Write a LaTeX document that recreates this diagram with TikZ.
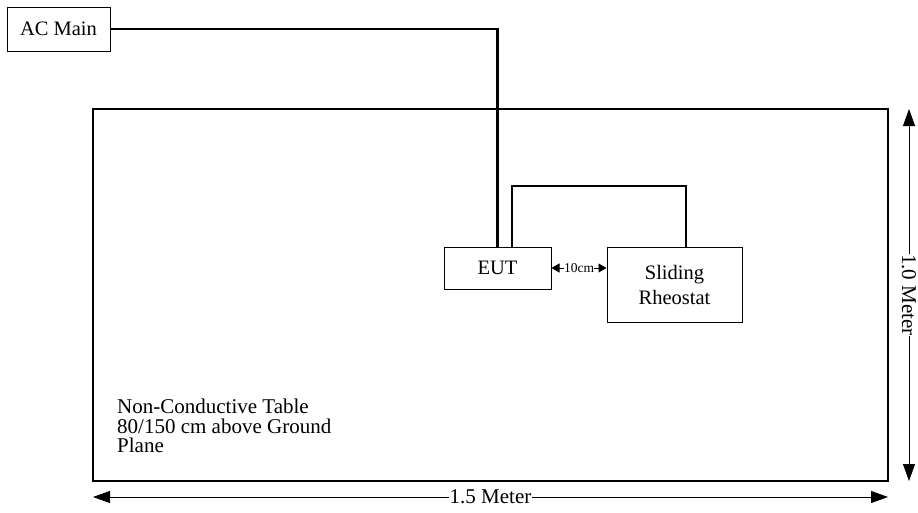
\documentclass[tikz,border=0pt]{standalone}
\usepackage{fontspec}
\setmainfont{Liberation Serif}
\usetikzlibrary{arrows.meta}
\begin{document}
\begin{tikzpicture}[x=1pt,y=-1pt,
  box/.style={draw=black,line width=1pt,inner sep=0pt,font=\fontsize{20.5}{24}\selectfont,align=center},
  dim/.style={line width=0.9pt,{Triangle[length=17pt,width=12pt]}-{Triangle[length=17pt,width=12pt]}},
  dimlabel/.style={fill=white,inner sep=0.5pt,font=\fontsize{21}{24}\selectfont},
  thick wire/.style={line width=2.4pt},
  thin wire/.style={line width=1.2pt}]
\useasboundingbox (0,0) rectangle (918,512);
\node[draw=black,line width=2.2pt,minimum width=795pt,minimum height=372pt,inner sep=0pt] (table) at (490.5,295) {};
\node[box,minimum width=103pt,minimum height=44pt] (ac) at (58.5,29) {AC Main};
\node[box,minimum width=107pt,minimum height=42pt] (eut) at (497.5,268) {EUT};
\node[box,minimum width=135pt,minimum height=75pt,font=\fontsize{20.5}{25}\selectfont] (rh) at (674.5,284.5) {Sliding\\Rheostat};
\node[anchor=north west,align=left,inner sep=0pt,font=\fontsize{21}{19.5}\selectfont] (label) at (117,399) {Non-Conductive Table\\80/150 cm above Ground\\Plane};
\draw[thick wire] (ac.east) -| (eut.north);
\coordinate (c1) at (512,186);
\coordinate (c2) at (686,186);
\draw[thin wire] (eut.north -| c1) -- (c1) -- (c2) -- (c2 |- rh.north);
\draw[line width=0.8pt,{Triangle[length=8pt,width=9pt]}-{Triangle[length=8pt,width=9pt]}] (eut.east) -- node[fill=white,inner sep=0pt,font=\fontsize{13.5}{14}\selectfont] (tencm) {10cm} (rh.west |- eut.east);
\coordinate (v1) at (909,109);
\coordinate (v2) at (909,481);
\draw[dim] (v1) -- node[dimlabel,rotate=-90] (onem) {1.0 Meter} (v2);
\coordinate (h1) at (93,497);
\coordinate (h2) at (888,497);
\draw[dim] (h1) -- node[dimlabel] (onefive) {1.5 Meter} (h2);
\end{tikzpicture}
\end{document}
